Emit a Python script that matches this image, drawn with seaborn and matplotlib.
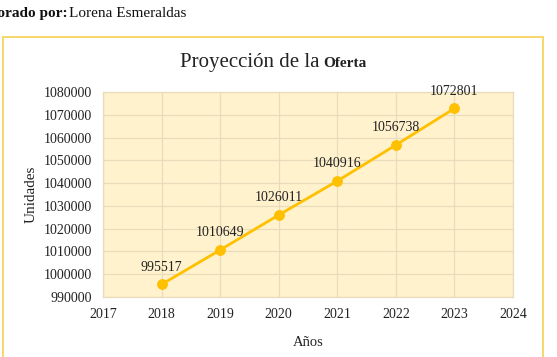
import matplotlib
matplotlib.use("Agg")
import matplotlib.pyplot as plt
import matplotlib.patches as patches
import seaborn as sns
import pandas as pd

# Datos de la proyección
anios = [2018, 2019, 2020, 2021, 2022, 2023]
unidades = [995517, 1010649, 1026011, 1040916, 1056738, 1072801]
ticks_x = [2017, 2018, 2019, 2020, 2021, 2022, 2023, 2024]
ticks_y = [990000, 1000000, 1010000, 1020000, 1030000, 1040000, 1050000, 1060000, 1070000, 1080000]

ORO = "#FFC000"
FONDO = "#FFF2CC"
REJILLA = "#E8DCBC"

sns.set_style("white")
plt.rcParams['font.family'] = ['Liberation Serif', 'DejaVu Serif']

df = pd.DataFrame({"Años": anios, "Unidades": unidades})

fig = plt.figure(figsize=(5.57, 3.57), dpi=100)

# marco del grafico
marco = patches.Rectangle((3 / 557, -0.05), 540 / 557, 1.05 - 37 / 357,
                          transform=fig.transFigure, fill=False,
                          edgecolor="#F8D66A", linewidth=1.4)
fig.patches.append(marco)

ax = fig.add_axes([103 / 557, 1 - 297 / 357, 410 / 557, 205 / 357])
ax.set_facecolor(FONDO)

sns.lineplot(data=df, x="Años", y="Unidades", ax=ax, color=ORO,
             marker="o", markersize=7, markeredgecolor=ORO, linewidth=2)

for x, y in zip(anios, unidades):
    ax.annotate(str(y), (x, y), xytext=(0, 12.5), textcoords="offset points",
                ha="center", va="center", fontsize=10, color="#222222")

ax.set_xlim(ticks_x[0], ticks_x[-1])
ax.set_ylim(ticks_y[0], ticks_y[-1])
ax.set_xticks(ticks_x)
ax.set_yticks(ticks_y)
ax.ticklabel_format(style="plain", useOffset=False)
ax.tick_params(axis="both", length=0, labelsize=10, labelcolor="#222222")
ax.tick_params(axis="y", pad=8)
ax.tick_params(axis="x", pad=8)
ax.grid(True, color=REJILLA, linewidth=0.9)
ax.set_axisbelow(True)
for s in ax.spines.values():
    s.set_color(REJILLA)
    s.set_linewidth(0.9)

ax.set_xlabel("Años", fontsize=10.5, labelpad=11, color="#222222")
ax.set_ylabel("Unidades", fontsize=11, labelpad=4, color="#222222")

# titulo con dos estilos
fig.text(319 / 557, 1 - 67 / 357, "Proyección de la", ha="right", va="baseline",
         fontsize=15, color="#222222")
fig.text(323 / 557, 1 - 67 / 357, "Oferta", ha="left", va="baseline",
         fontsize=11, fontweight="bold", color="#222222")

# texto superior (recortado)
fig.text(-33 / 557, 1 - 17 / 357, "Elaborado por:", ha="left", va="baseline",
         fontsize=11, fontweight="bold", color="#111111")
fig.text(69 / 557, 1 - 17 / 357, "Lorena Esmeraldas", ha="left", va="baseline",
         fontsize=11, color="#111111")

fig.savefig("out.png", dpi=100)
